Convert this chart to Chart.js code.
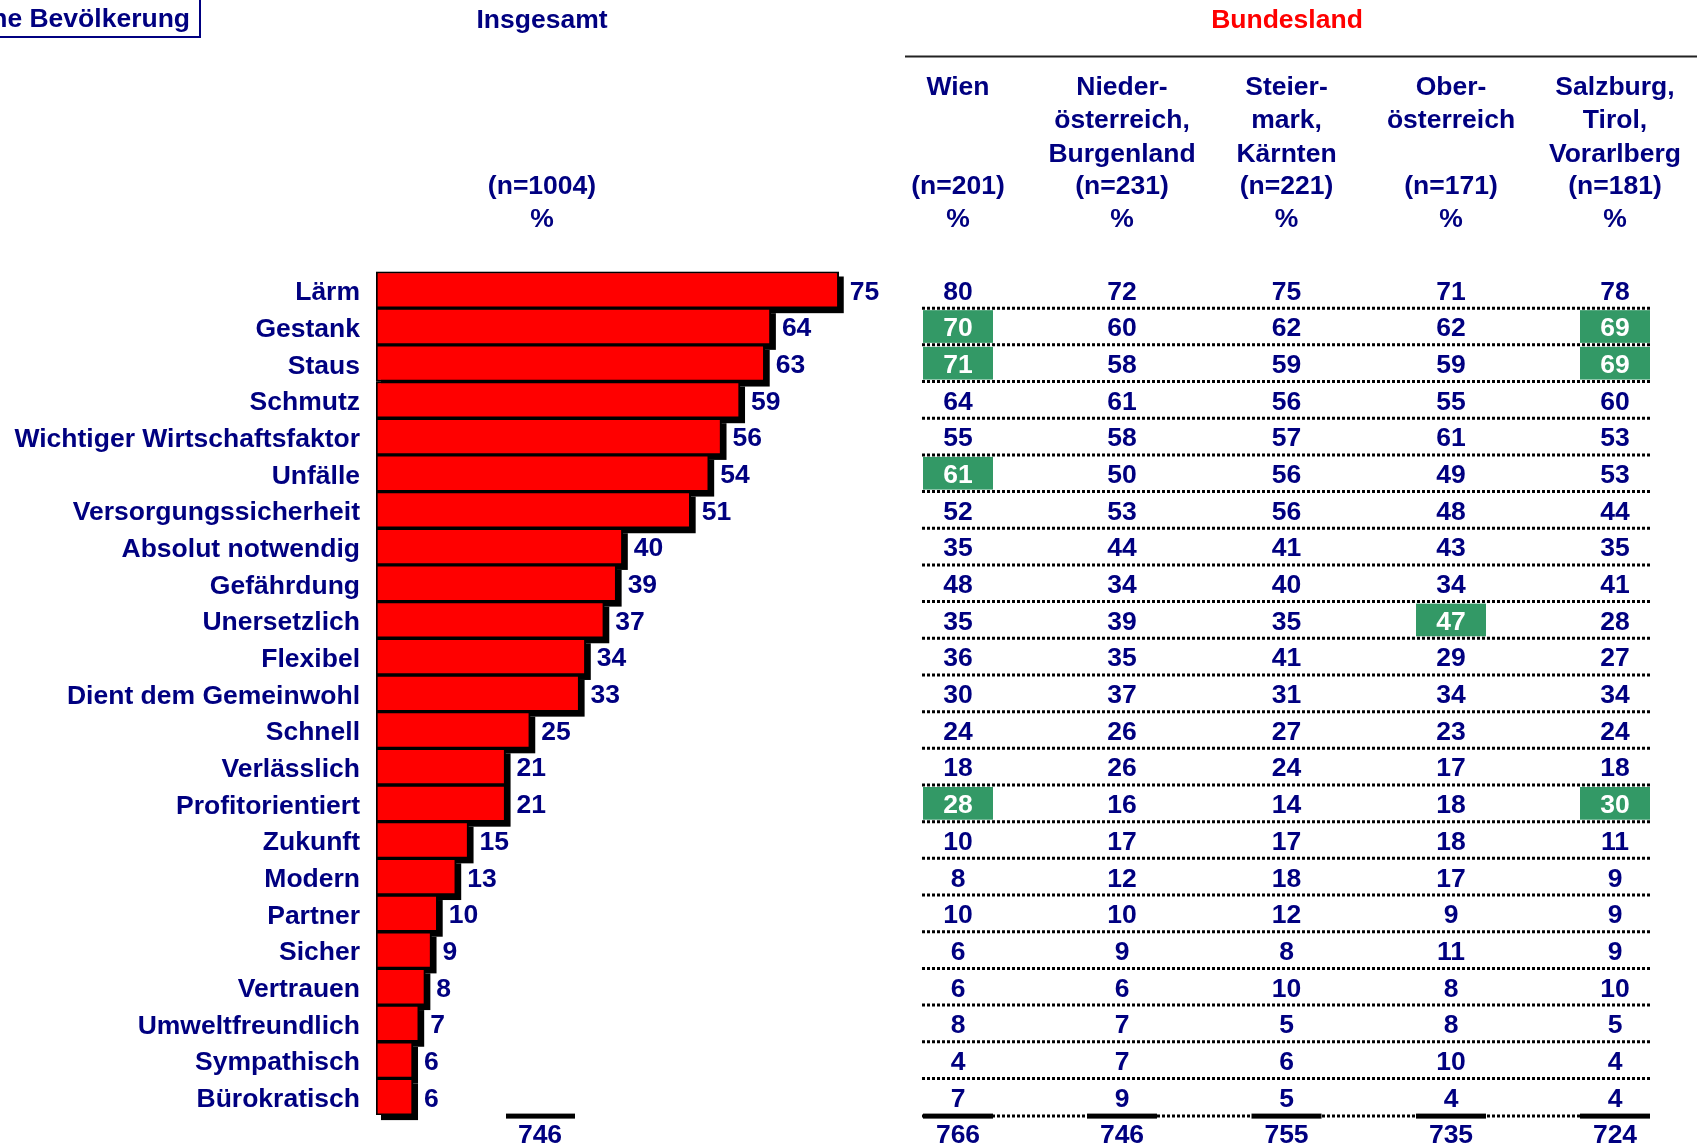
<!DOCTYPE html>
<html>
<head>
<meta charset="utf-8">
<script src="https://cdn.jsdelivr.net/npm/chart.js@4.4.0/dist/chart.umd.min.js"></script>
<style>
  body { margin: 0; background: #fff; }
  canvas { display: block; }
</style>
</head>
<body>
<canvas id="chart" width="1697" height="1147"></canvas>
<script>
// categories and the "Insgesamt" bar values (%)
const categories = ["Lärm", "Gestank", "Staus", "Schmutz", "Wichtiger Wirtschaftsfaktor", "Unfälle",
  "Versorgungssicherheit", "Absolut notwendig", "Gefährdung", "Unersetzlich", "Flexibel",
  "Dient dem Gemeinwohl", "Schnell", "Verlässlich", "Profitorientiert", "Zukunft", "Modern",
  "Partner", "Sicher", "Vertrauen", "Umweltfreundlich", "Sympathisch", "Bürokratisch"];
const insgesamt = [75, 64, 63, 59, 56, 54, 51, 40, 39, 37, 34, 33, 25, 21, 21, 15, 13, 10, 9, 8, 7, 6, 6];
const insgesamtTotal = 746;

// Bundesland table
const regionHeaders = [
  ["Wien", "", "", "(n=201)", "%"],
  ["Nieder-", "österreich,", "Burgenland", "(n=231)", "%"],
  ["Steier-", "mark,", "Kärnten", "(n=221)", "%"],
  ["Ober-", "österreich", "", "(n=171)", "%"],
  ["Salzburg,", "Tirol,", "Vorarlberg", "(n=181)", "%"]
];
const wien       = [80, 70, 71, 64, 55, 61, 52, 35, 48, 35, 36, 30, 24, 18, 28, 10, 8, 10, 6, 6, 8, 4, 7];
const niederoe   = [72, 60, 58, 61, 58, 50, 53, 44, 34, 39, 35, 37, 26, 26, 16, 17, 12, 10, 9, 6, 7, 7, 9];
const steiermark = [75, 62, 59, 56, 57, 56, 56, 41, 40, 35, 41, 31, 27, 24, 14, 17, 18, 12, 8, 10, 5, 6, 5];
const oberoe     = [71, 62, 59, 55, 61, 49, 48, 43, 34, 47, 29, 34, 23, 17, 18, 18, 17, 9, 11, 8, 8, 10, 4];
const salzburg   = [78, 69, 69, 60, 53, 53, 44, 35, 41, 28, 27, 34, 24, 18, 30, 11, 9, 9, 9, 10, 5, 4, 4];
const regionTotals = [766, 746, 755, 735, 724];
// [row, column] cells marked green
const highlight = [[1, 0], [1, 4], [2, 0], [2, 4], [5, 0], [9, 3], [14, 0], [14, 4]];

const columns = [wien, niederoe, steiermark, oberoe, salzburg];
const colX = [958, 1122, 1286.5, 1451, 1615];
const NAVY = "#000080";
const FAMILY = "'Liberation Sans', Arial, sans-serif";
const FONT = "bold 26.5px " + FAMILY;
const DY = 1.5; // small text nudge down

const shadowPlugin = {
  id: "shadow",
  beforeDatasetsDraw(chart) {
    const ctx = chart.ctx;
    ctx.save();
    ctx.fillStyle = "#000";
    chart.getDatasetMeta(0).data.forEach(bar => {
      const p = bar.getProps(["x", "y", "base", "height"], true);
      ctx.fillRect(p.base + 5, p.y - p.height / 2 + 5, p.x - p.base, p.height);
    });
    ctx.restore();
  }
};

const labelPlugin = {
  id: "valueLabels",
  afterDatasetsDraw(chart) {
    const ctx = chart.ctx;
    ctx.save();
    ctx.font = FONT;
    ctx.fillStyle = NAVY;
    ctx.textAlign = "left";
    ctx.textBaseline = "middle";
    chart.getDatasetMeta(0).data.forEach((bar, i) => {
      ctx.fillText(insgesamt[i], bar.x + 11, bar.y + 1 + DY);
    });
    ctx.restore();
  }
};

const tablePlugin = {
  id: "table",
  afterDraw(chart) {
    const ctx = chart.ctx;
    const y = chart.scales.y;
    const band = y.getPixelForValue(1) - y.getPixelForValue(0);
    const x0 = colX[0] - 36, x1 = colX[4] + 35;
    ctx.save();

    // top-left box
    ctx.strokeStyle = NAVY;
    ctx.lineWidth = 2;
    ctx.strokeRect(-5, -5, 205, 42);
    ctx.font = FONT;
    ctx.fillStyle = NAVY;
    ctx.textAlign = "right";
    ctx.textBaseline = "middle";
    ctx.fillText("ne Bevölkerung", 190, 18 + DY);

    // headers
    ctx.textAlign = "center";
    ctx.fillText("Insgesamt", 542, 19 + DY);
    ctx.fillText("(n=1004)", 542, 185 + DY);
    ctx.fillText("%", 542, 218 + DY);
    ctx.fillStyle = "#ff0000";
    ctx.fillText("Bundesland", 1287, 19 + DY);
    ctx.strokeStyle = "#222";
    ctx.lineWidth = 2;
    ctx.beginPath();
    ctx.moveTo(905, 56.5);
    ctx.lineTo(1697, 56.5);
    ctx.stroke();
    ctx.fillStyle = NAVY;
    const lineY = [86, 119, 153, 185, 218];
    regionHeaders.forEach((lines, c) => {
      lines.forEach((t, k) => { if (t) ctx.fillText(t, colX[c], lineY[k] + DY); });
    });

    // green cells
    ctx.fillStyle = "#339966";
    highlight.forEach(([r, c]) => {
      const cy = y.getPixelForValue(r);
      ctx.fillRect(colX[c] - 35, cy - band / 2 + 2, 70, band - 4);
    });

    // dotted row separators
    ctx.strokeStyle = "#000";
    ctx.lineWidth = 3;
    ctx.setLineDash([3, 2]);
    for (let r = 0; r < categories.length; r++) {
      const ly = y.getPixelForValue(r) + band / 2 + (r === categories.length - 1 ? 1 : 0);
      ctx.beginPath();
      ctx.moveTo(x0, ly);
      ctx.lineTo(x1, ly);
      ctx.stroke();
    }
    ctx.setLineDash([]);

    // numbers
    ctx.font = FONT;
    columns.forEach((vals, c) => {
      vals.forEach((v, r) => {
        const green = highlight.some(h => h[0] === r && h[1] === c);
        ctx.fillStyle = green ? "#fff" : NAVY;
        ctx.fillText(v, colX[c], y.getPixelForValue(r) + 1 + DY);
      });
    });

    // totals
    const by = y.getPixelForValue(categories.length - 1) + band / 2 + 1;
    ctx.fillStyle = "#000";
    colX.forEach(cx => ctx.fillRect(cx - 35, by - 2.5, 70, 5));
    ctx.fillRect(506, by - 2.5, 69, 5);
    ctx.fillStyle = NAVY;
    regionTotals.forEach((t, c) => ctx.fillText(t, colX[c], 1134 + DY));
    ctx.fillText(insgesamtTotal, 540, 1134 + DY);
    ctx.restore();
  }
};

new Chart(document.getElementById("chart"), {
  type: "bar",
  data: {
    labels: categories,
    datasets: [{
      data: insgesamt,
      backgroundColor: "#ff0000",
      borderColor: "#000",
      borderWidth: 2,
      borderSkipped: false,
      barPercentage: 1,
      categoryPercentage: 1
    }]
  },
  options: {
    indexAxis: "y",
    responsive: false,
    animation: false,
    devicePixelRatio: 1,
    layout: { padding: { left: 0, top: 271.5, right: 704, bottom: 28.6 } },
    plugins: { legend: { display: false }, tooltip: { enabled: false } },
    scales: {
      x: { display: false, min: 0, max: 100 },
      y: {
        grid: { display: false, drawTicks: false },
        border: { display: false },
        ticks: { color: NAVY, padding: 16, labelOffset: 1.5 + DY, font: { family: FAMILY, size: 26.5, weight: "bold" } },
        afterFit(scale) { scale.width = 376; }
      }
    }
  },
  plugins: [shadowPlugin, labelPlugin, tablePlugin]
});
</script>
</body>
</html>
